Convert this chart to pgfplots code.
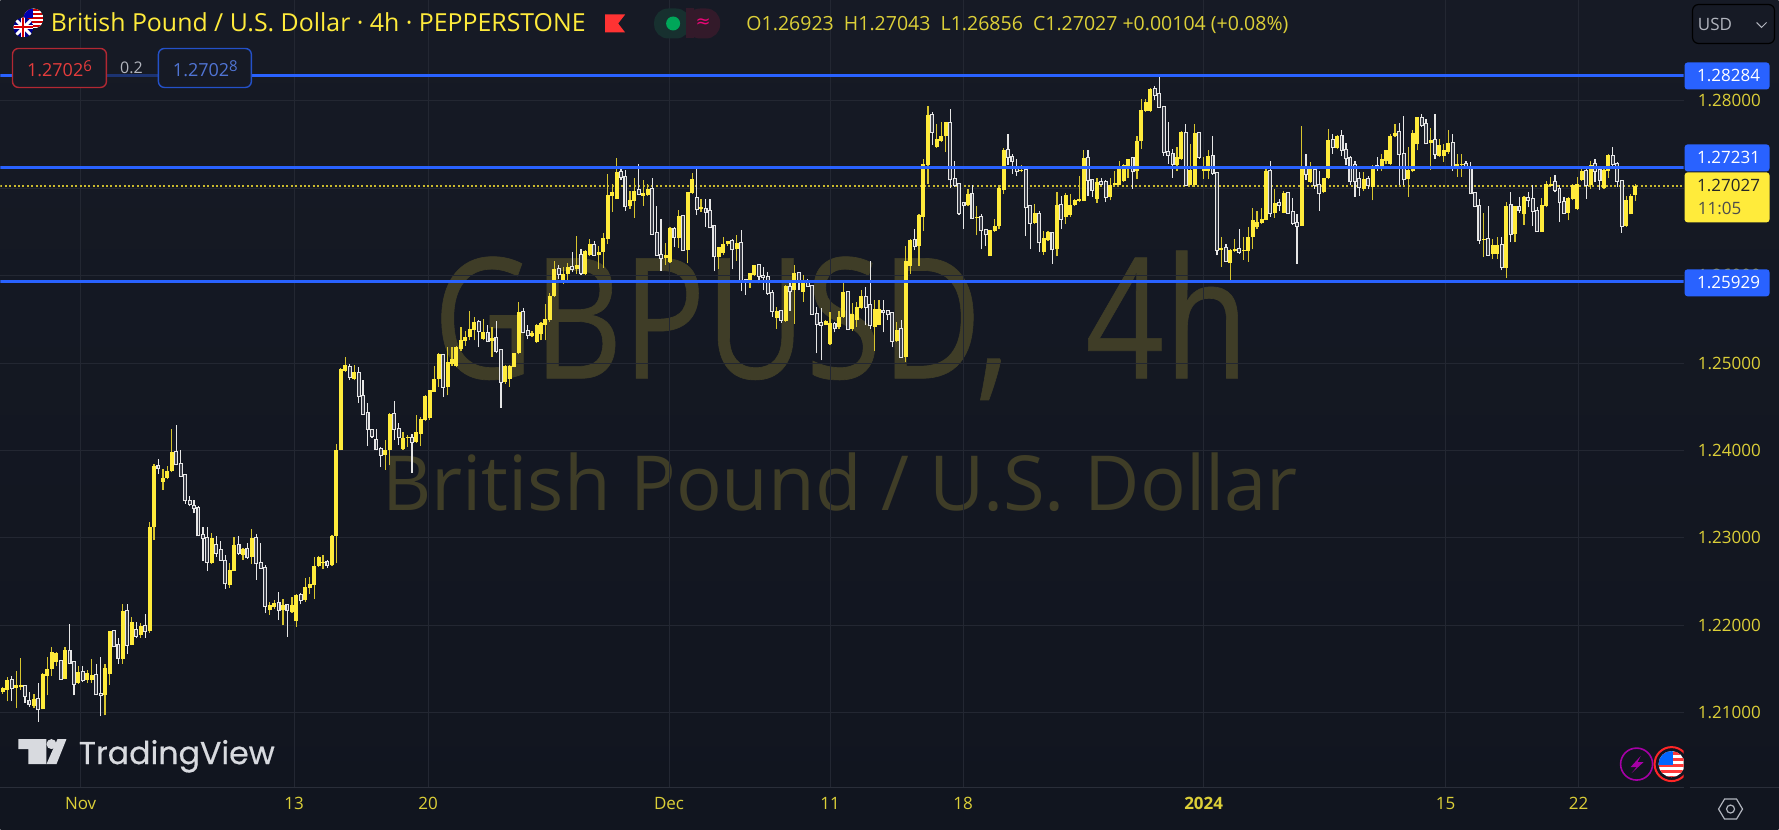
\documentclass[border=0pt]{standalone}
\usepackage{fontspec}
\usepackage{pgfplots}
\usepackage{pgfplotstable}
\pgfplotsset{compat=1.18}
\setmainfont{Open Sans}
\newfontfamily\tvfont{Poppins}
\newfontfamily\symfont{DejaVu Sans}

\definecolor{bgtop}{HTML}{161A25}
\definecolor{bgbot}{HTML}{11151F}
\definecolor{gridc}{HTML}{232732}
\definecolor{axisc}{HTML}{2A2E39}
\definecolor{upbody}{HTML}{FFEB3B}
\definecolor{upwick}{HTML}{D8C52E}
\definecolor{downc}{HTML}{E6E6E6}
\definecolor{downin}{HTML}{3A3D48}
\definecolor{lineblue}{HTML}{2962FF}
\definecolor{ticktxt}{HTML}{DCCF38}
\definecolor{titletxt}{HTML}{FFEB3B}
\definecolor{mark}{HTML}{3F3D27}
\definecolor{lastdot}{HTML}{C9B92E}
\definecolor{greyt}{HTML}{B2B5BE}
\definecolor{redbox}{HTML}{B22833}
\definecolor{blubox}{HTML}{2451C9}
\definecolor{pillg}{HTML}{17302F}
\definecolor{pillr}{HTML}{331A2A}

% 4h candles, i = bar number, prices
\pgfplotstableread{
i o h l c
0 1.2124 1.2130 1.2122 1.2128
1 1.2126 1.2141 1.2113 1.2137
3 1.2128 1.2148 1.2105 1.2132
4 1.2129 1.2163 1.2126 1.2132
7 1.2108 1.2121 1.2105 1.2116
9 1.2104 1.2145 1.2104 1.2144
10 1.2142 1.2164 1.2120 1.2150
11 1.2150 1.2175 1.2142 1.2169
12 1.2158 1.2170 1.2153 1.2168
14 1.2139 1.2175 1.2139 1.2172
17 1.2134 1.2154 1.2133 1.2147
19 1.2137 1.2149 1.2134 1.2145
20 1.2137 1.2161 1.2134 1.2143
23 1.2120 1.2156 1.2097 1.2151
24 1.2144 1.2194 1.2132 1.2193
27 1.2162 1.2225 1.2156 1.2217
29 1.2178 1.2209 1.2177 1.2204
31 1.2189 1.2203 1.2186 1.2199
33 1.2193 1.2318 1.2191 1.2313
34 1.2312 1.2385 1.2298 1.2382
36 1.2364 1.2379 1.2355 1.2368
37 1.2368 1.2382 1.2367 1.2377
38 1.2377 1.2424 1.2375 1.2398
47 1.2271 1.2306 1.2270 1.2300
51 1.2246 1.2271 1.2243 1.2263
52 1.2262 1.2301 1.2262 1.2292
54 1.2280 1.2288 1.2275 1.2287
56 1.2278 1.2310 1.2270 1.2300
60 1.2217 1.2227 1.2212 1.2223
61 1.2221 1.2229 1.2219 1.2226
63 1.2217 1.2230 1.2200 1.2223
65 1.2215 1.2232 1.2214 1.2223
66 1.2205 1.2236 1.2198 1.2235
68 1.2229 1.2254 1.2227 1.2244
69 1.2243 1.2255 1.2236 1.2247
70 1.2246 1.2278 1.2230 1.2268
71 1.2268 1.2279 1.2267 1.2278
72 1.2271 1.2281 1.2265 1.2273
74 1.2269 1.2303 1.2268 1.2302
75 1.2302 1.2407 1.2271 1.2401
76 1.2401 1.2494 1.2400 1.2493
77 1.2491 1.2507 1.2490 1.2498
79 1.2482 1.2498 1.2480 1.2490
86 1.2395 1.2412 1.2378 1.2401
87 1.2400 1.2443 1.2383 1.2442
90 1.2402 1.2421 1.2401 1.2414
91 1.2414 1.2418 1.2404 1.2415
93 1.2410 1.2440 1.2409 1.2421
94 1.2419 1.2438 1.2405 1.2436
95 1.2435 1.2463 1.2434 1.2462
96 1.2437 1.2469 1.2435 1.2469
97 1.2467 1.2496 1.2467 1.2482
98 1.2482 1.2511 1.2473 1.2510
100 1.2473 1.2518 1.2463 1.2501
101 1.2499 1.2518 1.2497 1.2505
102 1.2496 1.2519 1.2495 1.2518
103 1.2516 1.2541 1.2514 1.2526
104 1.2525 1.2537 1.2520 1.2530
105 1.2530 1.2560 1.2526 1.2539
106 1.2538 1.2553 1.2526 1.2547
108 1.2528 1.2550 1.2526 1.2536
110 1.2525 1.2541 1.2507 1.2529
113 1.2478 1.2498 1.2476 1.2496
114 1.2482 1.2498 1.2473 1.2496
115 1.2495 1.2511 1.2495 1.2511
116 1.2511 1.2570 1.2510 1.2558
119 1.2531 1.2537 1.2530 1.2534
120 1.2524 1.2545 1.2523 1.2543
121 1.2533 1.2547 1.2526 1.2546
122 1.2544 1.2567 1.2526 1.2550
123 1.2549 1.2580 1.2547 1.2577
124 1.2577 1.2617 1.2576 1.2608
126 1.2595 1.2610 1.2590 1.2602
127 1.2602 1.2614 1.2591 1.2610
129 1.2607 1.2645 1.2602 1.2612
131 1.2602 1.2629 1.2601 1.2628
132 1.2623 1.2642 1.2622 1.2636
134 1.2624 1.2634 1.2608 1.2627
135 1.2627 1.2649 1.2609 1.2643
136 1.2642 1.2716 1.2636 1.2692
137 1.2691 1.2705 1.2673 1.2695
138 1.2688 1.2734 1.2688 1.2718
141 1.2680 1.2697 1.2676 1.2686
142 1.2685 1.2711 1.2666 1.2697
144 1.2691 1.2709 1.2680 1.2694
145 1.2692 1.2705 1.2691 1.2699
149 1.2620 1.2637 1.2612 1.2623
150 1.2615 1.2655 1.2614 1.2654
152 1.2643 1.2675 1.2632 1.2668
154 1.2629 1.2695 1.2614 1.2695
155 1.2694 1.2717 1.2693 1.2710
157 1.2676 1.2688 1.2673 1.2678
161 1.2621 1.2633 1.2607 1.2633
162 1.2626 1.2644 1.2624 1.2636
163 1.2636 1.2640 1.2634 1.2640
165 1.2630 1.2646 1.2617 1.2637
168 1.2591 1.2603 1.2586 1.2603
169 1.2601 1.2612 1.2600 1.2612
174 1.2551 1.2564 1.2539 1.2560
176 1.2548 1.2589 1.2547 1.2588
178 1.2583 1.2612 1.2545 1.2603
180 1.2581 1.2601 1.2570 1.2593
185 1.2544 1.2549 1.2543 1.2548
186 1.2522 1.2558 1.2521 1.2546
188 1.2541 1.2560 1.2539 1.2553
189 1.2553 1.2591 1.2552 1.2581
191 1.2539 1.2569 1.2537 1.2556
192 1.2549 1.2570 1.2541 1.2564
193 1.2563 1.2583 1.2562 1.2577
196 1.2541 1.2572 1.2514 1.2562
197 1.2544 1.2572 1.2543 1.2562
201 1.2525 1.2547 1.2524 1.2538
203 1.2507 1.2634 1.2501 1.2617
204 1.2611 1.2642 1.2602 1.2641
206 1.2634 1.2670 1.2611 1.2669
207 1.2667 1.2733 1.2651 1.2727
208 1.2726 1.2794 1.2705 1.2784
210 1.2747 1.2773 1.2746 1.2756
211 1.2754 1.2775 1.2753 1.2760
212 1.2759 1.2775 1.2741 1.2775
217 1.2681 1.2699 1.2680 1.2693
219 1.2666 1.2680 1.2646 1.2667
222 1.2622 1.2652 1.2622 1.2652
223 1.2651 1.2665 1.2650 1.2657
224 1.2657 1.2703 1.2653 1.2700
225 1.2698 1.2746 1.2693 1.2744
229 1.2719 1.2726 1.2718 1.2721
232 1.2660 1.2682 1.2659 1.2671
234 1.2627 1.2651 1.2624 1.2643
235 1.2641 1.2651 1.2640 1.2650
237 1.2630 1.2696 1.2622 1.2681
239 1.2667 1.2694 1.2659 1.2692
240 1.2669 1.2693 1.2667 1.2681
241 1.2681 1.2688 1.2680 1.2686
242 1.2685 1.2714 1.2684 1.2688
243 1.2685 1.2744 1.2685 1.2734
246 1.2688 1.2712 1.2683 1.2707
249 1.2690 1.2712 1.2686 1.2703
250 1.2703 1.2720 1.2702 1.2706
251 1.2704 1.2731 1.2703 1.2725
252 1.2708 1.2728 1.2707 1.2726
253 1.2725 1.2733 1.2712 1.2733
255 1.2719 1.2760 1.2710 1.2754
256 1.2754 1.2802 1.2745 1.2789
257 1.2788 1.2802 1.2787 1.2798
258 1.2788 1.2814 1.2787 1.2813
264 1.2726 1.2747 1.2720 1.2735
265 1.2733 1.2765 1.2732 1.2764
267 1.2704 1.2750 1.2703 1.2721
268 1.2703 1.2773 1.2701 1.2763
270 1.2720 1.2735 1.2710 1.2722
271 1.2720 1.2743 1.2710 1.2737
274 1.2629 1.2644 1.2610 1.2632
276 1.2614 1.2630 1.2593 1.2629
277 1.2628 1.2642 1.2627 1.2630
279 1.2628 1.2644 1.2618 1.2629
280 1.2628 1.2655 1.2616 1.2644
281 1.2644 1.2677 1.2630 1.2664
282 1.2655 1.2674 1.2653 1.2661
283 1.2660 1.2677 1.2659 1.2665
284 1.2664 1.2725 1.2663 1.2720
286 1.2672 1.2699 1.2666 1.2683
288 1.2672 1.2697 1.2671 1.2694
292 1.2657 1.2771 1.2657 1.2724
294 1.2707 1.2730 1.2706 1.2722
297 1.2695 1.2712 1.2694 1.2712
298 1.2712 1.2767 1.2710 1.2755
300 1.2746 1.2761 1.2745 1.2760
306 1.2699 1.2718 1.2697 1.2710
308 1.2701 1.2726 1.2686 1.2725
310 1.2722 1.2739 1.2720 1.2733
311 1.2731 1.2743 1.2727 1.2743
312 1.2728 1.2762 1.2726 1.2760
313 1.2760 1.2773 1.2758 1.2763
316 1.2710 1.2747 1.2690 1.2721
317 1.2719 1.2766 1.2718 1.2763
318 1.2750 1.2781 1.2743 1.2781
321 1.2752 1.2769 1.2721 1.2755
323 1.2737 1.2756 1.2736 1.2749
324 1.2737 1.2750 1.2730 1.2743
325 1.2741 1.2766 1.2739 1.2752
327 1.2725 1.2739 1.2713 1.2728
328 1.2727 1.2739 1.2713 1.2728
333 1.2641 1.2672 1.2621 1.2642
335 1.2625 1.2642 1.2619 1.2635
336 1.2625 1.2644 1.2619 1.2635
338 1.2609 1.2684 1.2597 1.2680
340 1.2648 1.2680 1.2638 1.2679
342 1.2670 1.2691 1.2658 1.2690
346 1.2650 1.2689 1.2650 1.2681
347 1.2679 1.2708 1.2678 1.2705
348 1.2702 1.2713 1.2701 1.2705
352 1.2672 1.2690 1.2663 1.2689
353 1.2688 1.2705 1.2686 1.2703
354 1.2676 1.2713 1.2675 1.2705
355 1.2709 1.2722 1.2708 1.2719
357 1.2703 1.2731 1.2699 1.2726
360 1.2700 1.2722 1.2699 1.2721
361 1.2720 1.2739 1.2712 1.2738
365 1.2657 1.2691 1.2656 1.2686
366 1.2670 1.2693 1.2670 1.2691
367 1.26923 1.27043 1.26856 1.27027
}\upbars

\pgfplotstableread{
i o h l c
2 1.2137 1.2142 1.2113 1.2128
5 1.2131 1.2132 1.2111 1.2119
6 1.2113 1.2124 1.2107 1.2110
8 1.2116 1.2134 1.2090 1.2104
13 1.2159 1.2160 1.2138 1.2139
15 1.2171 1.2201 1.2156 1.2157
16 1.2158 1.2158 1.2120 1.2133
18 1.2147 1.2154 1.2135 1.2137
21 1.2143 1.2156 1.2120 1.2121
22 1.2121 1.2164 1.2096 1.2120
25 1.2194 1.2195 1.2175 1.2176
26 1.2177 1.2185 1.2156 1.2163
28 1.2216 1.2225 1.2167 1.2178
30 1.2195 1.2204 1.2185 1.2188
32 1.2199 1.2213 1.2186 1.2193
35 1.2382 1.2390 1.2373 1.2380
39 1.2398 1.2429 1.2383 1.2384
40 1.2385 1.2401 1.2370 1.2371
41 1.2372 1.2372 1.2339 1.2343
42 1.2342 1.2348 1.2336 1.2339
43 1.2337 1.2343 1.2328 1.2334
44 1.2334 1.2336 1.2302 1.2303
45 1.2303 1.2313 1.2274 1.2300
46 1.2300 1.2313 1.2262 1.2273
48 1.2292 1.2302 1.2278 1.2283
49 1.2286 1.2297 1.2274 1.2275
50 1.2274 1.2280 1.2242 1.2248
53 1.2292 1.2302 1.2281 1.2283
55 1.2287 1.2294 1.2276 1.2278
57 1.2300 1.2305 1.2252 1.2271
58 1.2271 1.2294 1.2265 1.2266
59 1.2266 1.2269 1.2214 1.2222
62 1.2226 1.2238 1.2206 1.2217
64 1.2223 1.2224 1.2187 1.2217
67 1.2235 1.2237 1.2224 1.2229
73 1.2273 1.2275 1.2266 1.2269
78 1.2495 1.2499 1.2480 1.2484
80 1.2489 1.2495 1.2454 1.2462
81 1.2462 1.2480 1.2441 1.2442
82 1.2443 1.2454 1.2405 1.2425
83 1.2423 1.2425 1.2414 1.2416
84 1.2412 1.2425 1.2400 1.2402
85 1.2402 1.2404 1.2381 1.2395
88 1.2442 1.2457 1.2412 1.2425
89 1.2425 1.2431 1.2406 1.2415
92 1.2414 1.2419 1.2374 1.2410
99 1.2509 1.2510 1.2461 1.2473
107 1.2547 1.2549 1.2518 1.2537
109 1.2534 1.2543 1.2524 1.2525
111 1.2529 1.2548 1.2511 1.2514
112 1.2515 1.2516 1.2449 1.2478
117 1.2558 1.2563 1.2534 1.2535
118 1.2537 1.2543 1.2527 1.2532
125 1.2607 1.2612 1.2596 1.2602
128 1.2610 1.2627 1.2604 1.2608
130 1.2624 1.2630 1.2601 1.2603
133 1.2635 1.2640 1.2623 1.2624
139 1.2718 1.2722 1.2709 1.2713
140 1.2713 1.2721 1.2674 1.2679
143 1.2698 1.2728 1.2692 1.2693
146 1.2699 1.2711 1.2647 1.2648
147 1.2649 1.2680 1.2623 1.2624
148 1.2624 1.2665 1.2605 1.2620
151 1.2653 1.2656 1.2633 1.2644
153 1.2668 1.2668 1.2628 1.2629
156 1.2689 1.2725 1.2669 1.2676
158 1.2676 1.2687 1.2656 1.2673
159 1.2674 1.2687 1.2654 1.2655
160 1.2657 1.2657 1.2605 1.2622
164 1.2639 1.2642 1.2607 1.2630
166 1.2637 1.2652 1.2582 1.2595
167 1.2595 1.2596 1.2578 1.2594
170 1.2612 1.2613 1.2591 1.2600
171 1.2600 1.2610 1.2583 1.2598
172 1.2598 1.2604 1.2578 1.2580
173 1.2580 1.2583 1.2553 1.2559
175 1.2560 1.2560 1.2546 1.2549
177 1.2587 1.2594 1.2560 1.2582
179 1.2603 1.2604 1.2583 1.2594
181 1.2591 1.2596 1.2587 1.2588
182 1.2588 1.2589 1.2555 1.2556
183 1.2556 1.2564 1.2511 1.2545
184 1.2546 1.2563 1.2503 1.2544
187 1.2545 1.2547 1.2535 1.2540
190 1.2581 1.2582 1.2538 1.2539
194 1.2576 1.2587 1.2543 1.2564
195 1.2566 1.2617 1.2539 1.2543
198 1.2560 1.2572 1.2535 1.2558
199 1.2559 1.2560 1.2549 1.2556
200 1.2557 1.2558 1.2518 1.2525
202 1.2539 1.2549 1.2506 1.2507
205 1.2641 1.2653 1.2629 1.2634
209 1.2784 1.2787 1.2749 1.2764
213 1.2774 1.2791 1.2700 1.2710
214 1.2710 1.2731 1.2701 1.2704
215 1.2705 1.2705 1.2669 1.2672
216 1.2683 1.2684 1.2653 1.2681
218 1.2693 1.2703 1.2665 1.2666
220 1.2667 1.2670 1.2630 1.2652
221 1.2652 1.2653 1.2634 1.2647
226 1.2744 1.2762 1.2726 1.2736
227 1.2736 1.2739 1.2716 1.2731
228 1.2722 1.2733 1.2714 1.2720
230 1.2721 1.2722 1.2645 1.2678
231 1.2679 1.2680 1.2630 1.2660
233 1.2670 1.2674 1.2627 1.2638
236 1.2649 1.2650 1.2613 1.2630
238 1.2681 1.2691 1.2653 1.2665
244 1.2734 1.2744 1.2691 1.2709
245 1.2709 1.2709 1.2690 1.2698
247 1.2707 1.2712 1.2703 1.2705
248 1.2707 1.2709 1.2684 1.2690
254 1.2734 1.2736 1.2699 1.2719
259 1.2813 1.2817 1.2801 1.2807
260 1.2808 1.2829 1.2792 1.2793
261 1.2793 1.2794 1.2737 1.2741
262 1.2741 1.2776 1.2728 1.2738
263 1.2739 1.2745 1.2712 1.2728
266 1.2763 1.2773 1.2702 1.2704
269 1.2763 1.2764 1.2733 1.2735
272 1.2737 1.2760 1.2715 1.2717
273 1.2717 1.2718 1.2623 1.2629
275 1.2632 1.2636 1.2616 1.2617
278 1.2630 1.2653 1.2625 1.2627
285 1.2720 1.2731 1.2667 1.2672
287 1.2683 1.2688 1.2674 1.2681
289 1.2694 1.2696 1.2671 1.2672
290 1.2673 1.2689 1.2658 1.2660
291 1.2660 1.2670 1.2613 1.2657
293 1.2722 1.2739 1.2709 1.2716
295 1.2721 1.2722 1.2699 1.2704
296 1.2703 1.2720 1.2674 1.2694
299 1.2755 1.2762 1.2739 1.2747
301 1.2760 1.2766 1.2737 1.2744
302 1.2744 1.2751 1.2726 1.2734
303 1.2734 1.2737 1.2703 1.2708
304 1.2726 1.2731 1.2690 1.2708
305 1.2710 1.2718 1.2691 1.2701
307 1.2710 1.2714 1.2699 1.2703
309 1.2725 1.2735 1.2720 1.2723
314 1.2764 1.2774 1.2703 1.2739
315 1.2739 1.2782 1.2703 1.2710
319 1.2780 1.2785 1.2770 1.2772
320 1.2773 1.2779 1.2750 1.2751
322 1.2755 1.2785 1.2733 1.2739
326 1.2752 1.2762 1.2720 1.2725
329 1.2728 1.2731 1.2723 1.2725
330 1.2724 1.2730 1.2693 1.2694
331 1.2694 1.2695 1.2678 1.2680
332 1.2680 1.2688 1.2636 1.2641
334 1.2642 1.2680 1.2623 1.2624
337 1.2635 1.2644 1.2606 1.2610
339 1.2681 1.2695 1.2638 1.2648
341 1.2678 1.2690 1.2672 1.2675
343 1.2689 1.2695 1.2678 1.2686
344 1.2688 1.2703 1.2657 1.2674
345 1.2674 1.2678 1.2650 1.2651
349 1.2707 1.2715 1.2695 1.2698
350 1.2699 1.2703 1.2661 1.2684
351 1.2684 1.2690 1.2671 1.2672
356 1.2720 1.2725 1.2688 1.2704
358 1.2727 1.2733 1.2707 1.2720
359 1.2721 1.2723 1.2698 1.2709
362 1.2737 1.2747 1.2722 1.2728
363 1.2728 1.2730 1.2701 1.2708
364 1.2708 1.2709 1.2649 1.2657
}\downbars

\begin{document}
\begin{tikzpicture}
% background and watermark, in picture pixels from the top left
\begin{scope}[x=0.5pt,y=-0.5pt]
  \path[use as bounding box] (0,0) rectangle (1779,829);
  \shade[top color=bgtop,bottom color=bgbot] (0,0) rectangle (1779,829);
  \node[anchor=base,inner sep=0pt,text=mark] at (841,378)
    {\scalebox{1}[1.22]{\resizebox{408pt}{!}{\fontsize{87}{90}\selectfont\addfontfeatures{FakeBold=0.4}GBPUSD,\hspace{0.55em}4h}}};
  \node[anchor=base,inner sep=0pt,text=mark] at (840,510)
    {\resizebox{458pt}{!}{\fontsize{41}{44}\selectfont British Pound / U.S. Dollar}};
\end{scope}

\begin{axis}[
    at={(0pt,-393.5pt)},
    anchor=south west,
    scale only axis,
    width=842pt,
    height=393.5pt,
    xmin=-0.517, xmax=377.9,
    ymin=1.20151, ymax=1.29145,
    axis x line*=bottom,
    axis y line*=right,
    x axis line style={draw=axisc,-},
    y axis line style={draw=none,-},
    xtick={17.5,65.5,95.6,149.8,186,215.9,270,324.4,354.3},
    xticklabels={Nov,13,20,Dec,11,18,\textbf{2024},15,22},
    ytick={1.21,1.22,1.23,1.24,1.25,1.26,1.27,1.28},
    grid=major,
    grid style={draw=gridc,line width=0.5pt},
    major tick length=0pt,
    tick label style={font=\fontsize{8.5}{10}\selectfont,text=ticktxt},
    x tick label style={inner sep=0pt,yshift=-5pt},
    y tick label style={anchor=west,inner sep=0pt,xshift=7pt},
    /pgf/number format/.cd,fixed,fixed zerofill,precision=5,assume math mode=true,
  ]
  \addplot[lastdot,line width=0.8pt,dash pattern=on 1pt off 1.2pt,forget plot] coordinates {(-0.517,1.27027) (377.9,1.27027)};
  % wicks
  \addplot[draw=none,mark=none,error bars/.cd,y dir=plus,y explicit,error mark=none,
    error bar style={draw=upwick,line width=0.6pt}]
    table[x=i,y=l,y error plus expr=\thisrow{h}-\thisrow{l}] {\upbars};
  \addplot[draw=none,mark=none,error bars/.cd,y dir=plus,y explicit,error mark=none,
    error bar style={draw=downc,line width=0.6pt}]
    table[x=i,y=l,y error plus expr=\thisrow{h}-\thisrow{l}] {\downbars};
  % bodies
  \addplot[draw=none,mark=none,error bars/.cd,y dir=plus,y explicit,error mark=none,
    error bar style={draw=upbody,line width=2pt,line cap=butt}]
    table[x=i,y=o,y error plus expr=\thisrow{c}-\thisrow{o}] {\upbars};
  \addplot[draw=none,mark=none,error bars/.cd,y dir=plus,y explicit,error mark=none,
    error bar style={draw=downc,line width=2pt,shorten >=-0.5pt,shorten <=-0.5pt}]
    table[x=i,y=c,y error plus expr=\thisrow{o}-\thisrow{c}] {\downbars};
  \addplot[draw=none,mark=none,error bars/.cd,y dir=plus,y explicit,error mark=none,
    error bar style={draw=downin,line width=0.9pt,line cap=butt}]
    table[x=i,y=c,y error plus expr=\thisrow{o}-\thisrow{c}] {\downbars};
  % levels
  \addplot[lineblue,line width=1.4pt] coordinates {(-0.517,1.28284) (377.9,1.28284)};
  \addplot[lineblue,line width=1.4pt] coordinates {(-0.517,1.27231) (377.9,1.27231)};
  \addplot[lineblue,line width=1.4pt] coordinates {(-0.517,1.25929) (377.9,1.25929)};
\end{axis}

\begin{scope}[x=0.5pt,y=-0.5pt]
  \draw[axisc,line width=0.5pt] (1690,787) -- (1779,787);

  % flags in the legend
  \begin{scope}
    \clip (33,18) circle (10);
    \fill[white] (23,8) rectangle (43,28);
    \foreach \s in {9,13,17,21,25} \fill[red!80!black] (23,\s) rectangle (43,\s+2);
    \fill[blue!70!black] (23,8) rectangle (33,18);
  \end{scope}
  \begin{scope}
    \clip (23,27) circle (10);
    \fill[blue!55!black] (13,17) rectangle (33,37);
    \draw[white,line width=1.5pt] (13,17) -- (33,37) (13,37) -- (33,17);
    \draw[white,line width=2pt] (23,17) -- (23,37) (13,27) -- (33,27);
    \draw[red!85!black,line width=1pt] (23,17) -- (23,37) (13,27) -- (33,27);
  \end{scope}

  \node[anchor=base west,inner sep=0pt,text=titletxt] at (50,31)
    {\resizebox{267.5pt}{!}{\fontsize{12.6}{14}\selectfont British Pound / U.S. Dollar · 4h · PEPPERSTONE}};
  \fill[red!80!white] (605,14) -- (625,14) -- (618,23) -- (625,32) -- (605,32) -- cycle;

  % status pill
  \fill[rounded corners=7pt,fill=pillg] (654,8) rectangle (690,38);
  \fill[rounded corners=7pt,fill=pillr] (686,8) rectangle (720,38);
  \fill[fill=pillr] (686,8) rectangle (694,38);
  \fill[teal!70!green] (673,23) circle (7);
  \node[text=magenta!80!red,inner sep=0pt] at (703,23) {\symfont\fontsize{9}{10}\selectfont ≈};

  \node[anchor=base west,inner sep=0pt,text=ticktxt] at (746,30)
    {\resizebox{271pt}{!}{\fontsize{10}{12}\selectfont O1.26923\ \ H1.27043\ \ L1.26856\ \ C1.27027 +0.00104 (+0.08\%)}};

  % USD box
  \draw[rounded corners=3pt,draw=axisc!130!white,line width=0.6pt,fill=bgtop] (1693,4) rectangle (1775,43);
  \node[anchor=west,inner sep=0pt,text=greyt] at (1698,24) {\fontsize{8.5}{10}\selectfont USD};
  \draw[greyt,line width=0.5pt] (1757,22) -- (1762,27) -- (1767,22);

  % bid and ask
  \fill[bgtop,opacity=0.65] (106,69) rectangle (158,81);
  \draw[rounded corners=3pt,draw=redbox,line width=0.7pt,fill=bgtop] (12,48) rectangle (106,87);
  \node[text=red!65!pink!90!black,inner sep=0pt] at (59,68) {\fontsize{9}{10}\selectfont 1.2702\raisebox{2.5pt}{\fontsize{7.5}{8}\selectfont 6}};
  \node[text=greyt,inner sep=0pt] at (131,67) {\fontsize{8}{10}\selectfont 0.2};
  \draw[rounded corners=3pt,draw=blubox,line width=0.7pt,fill=bgtop] (158,48) rectangle (251,87);
  \node[text=blubox!80!white,inner sep=0pt] at (205,68) {\fontsize{9}{10}\selectfont 1.2702\raisebox{2.5pt}{\fontsize{7.5}{8}\selectfont 8}};

  % price scale labels
  \fill[rounded corners=1.5pt,lineblue] (1685,62) rectangle (1770,89);
  \node[text=white,inner sep=0pt] at (1729,75.5) {\fontsize{8.5}{10}\selectfont 1.28284};
  \fill[rounded corners=1.5pt,lineblue] (1685,144) rectangle (1770,171);
  \node[text=white,inner sep=0pt] at (1729,157.5) {\fontsize{8.5}{10}\selectfont 1.27231};
  \fill[rounded corners=1.5pt,upbody] (1685,172) rectangle (1770,222);
  \node[text=black!85,inner sep=0pt] at (1729,185) {\fontsize{8.5}{10}\selectfont 1.27027};
  \node[anchor=west,text=black!70,inner sep=0pt] at (1698,208) {\fontsize{8.5}{10}\selectfont 11:05};
  \fill[rounded corners=1.5pt,lineblue] (1685,269) rectangle (1770,296);
  \node[text=white,inner sep=0pt] at (1729,282) {\fontsize{8.5}{10}\selectfont 1.25929};

  % TradingView mark
  \fill[greyt!50!white] (18,739) -- (46,739) -- (46,764) -- (28,764) -- (28,749) -- (18,749) -- cycle;
  \fill[greyt!50!white] (51,744) circle (5);
  \fill[greyt!50!white] (57,739) -- (66,739) -- (56,764) -- (46,764) -- cycle;
  \node[anchor=base west,inner sep=0pt,text=greyt!50!white] at (78,764)
    {\resizebox{98pt}{!}{\tvfont\fontsize{15}{18}\selectfont\addfontfeatures{FakeBold=0.5}TradingView}};

  % event icons
  \draw[violet!70!magenta,line width=0.8pt] (1637,764) circle (16);
  \fill[violet!70!magenta] (1641,756) -- (1631,767) -- (1637,767) -- (1632,773) -- (1644,762) -- (1638,762) -- cycle;
  \begin{scope}
    \clip (1650,740) rectangle (1684,790);
    \draw[red!80!pink,line width=1pt] (1672,764) circle (17);
    \begin{scope}
      \clip (1672,764) circle (13);
      \fill[white] (1655,750) rectangle (1690,780);
      \foreach \s in {752,758,764,770,776} \fill[red!70!pink] (1655,\s) rectangle (1690,\s+3);
      \fill[blue!60!cyan] (1655,750) rectangle (1673,765);
    \end{scope}
  \end{scope}

  % settings
  \draw[greyt,line width=0.6pt] (1719,809) -- (1725,799) -- (1737,799) -- (1743,809) -- (1737,819) -- (1725,819) -- cycle;
  \draw[greyt,line width=0.6pt] (1731,809) circle (4);
\end{scope}
\end{tikzpicture}
\end{document}
